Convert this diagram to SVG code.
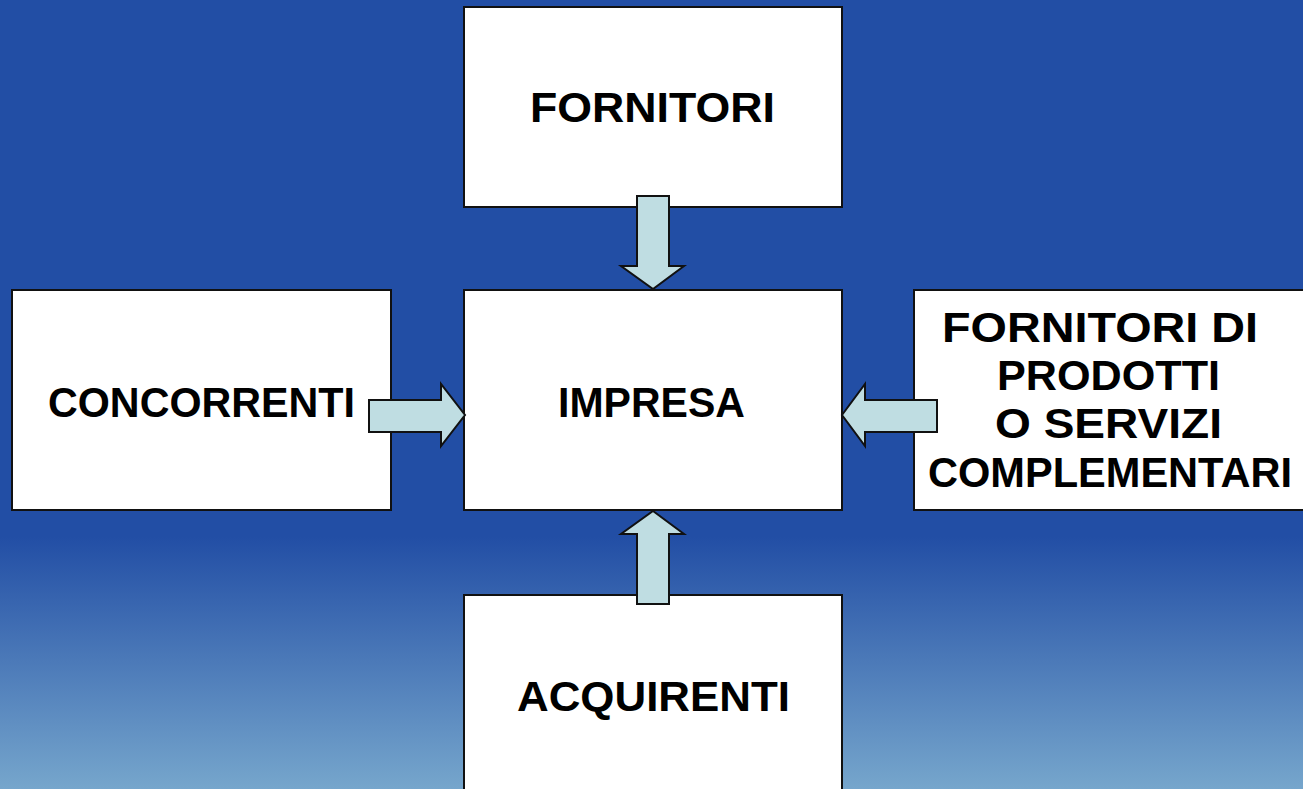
<svg xmlns="http://www.w3.org/2000/svg" width="1303" height="789" viewBox="0 0 1303 789">
<defs>
<linearGradient id="bg" x1="0" y1="0" x2="0" y2="789" gradientUnits="userSpaceOnUse">
<stop offset="0" stop-color="#224EA5"/>
<stop offset="0.68" stop-color="#224EA5"/>
<stop offset="1" stop-color="#76A6CC"/>
</linearGradient>
<style>
.box{fill:#FFFFFF;stroke:#111111;stroke-width:2}
.lbl{font-family:"Liberation Sans",Arial,sans-serif;font-weight:bold;font-size:43px;fill:#000000}
.arr{fill:#BFDDE2;stroke:#111111;stroke-width:2;stroke-linejoin:miter}
</style>
</defs>
<rect x="0" y="0" width="1303" height="789" fill="url(#bg)"/>
<g id="fornitori">
<rect class="box" x="464" y="7" width="378" height="200"/>
<text class="lbl" x="530" y="122" textLength="245" lengthAdjust="spacingAndGlyphs">FORNITORI</text>
</g>
<g id="concorrenti">
<rect class="box" x="12" y="290" width="379" height="220"/>
<text class="lbl" x="48" y="417" textLength="307" lengthAdjust="spacingAndGlyphs">CONCORRENTI</text>
</g>
<g id="impresa">
<rect class="box" x="464" y="290" width="378" height="220"/>
<text class="lbl" x="558" y="417" textLength="187" lengthAdjust="spacingAndGlyphs">IMPRESA</text>
</g>
<g id="complementari">
<rect class="box" x="914" y="290" width="400" height="220"/>
<text class="lbl" x="942" y="342" textLength="316" lengthAdjust="spacingAndGlyphs">FORNITORI DI</text>
<text class="lbl" x="997" y="390" textLength="223" lengthAdjust="spacingAndGlyphs">PRODOTTI</text>
<text class="lbl" x="995" y="438" textLength="227" lengthAdjust="spacingAndGlyphs">O SERVIZI</text>
<text class="lbl" x="928" y="487" textLength="364" lengthAdjust="spacingAndGlyphs">COMPLEMENTARI</text>
</g>
<g id="acquirenti">
<rect class="box" x="464" y="595" width="378" height="210"/>
<text class="lbl" x="517" y="711" textLength="273" lengthAdjust="spacingAndGlyphs">ACQUIRENTI</text>
</g>
<g id="connectors">
<polygon class="arr" points="637,196 669,196 669,266 684,266 653,289 621,266 637,266"/>
<polygon class="arr" points="653,511 684,534 669,534 669,604 637,604 637,534 621,534"/>
<polygon class="arr" points="369,400 441,400 441,384 465,415 441,446 441,432 369,432"/>
<polygon class="arr" points="842,415 865,384 865,400 937,400 937,432 865,432 865,446"/>
</g>
</svg>
